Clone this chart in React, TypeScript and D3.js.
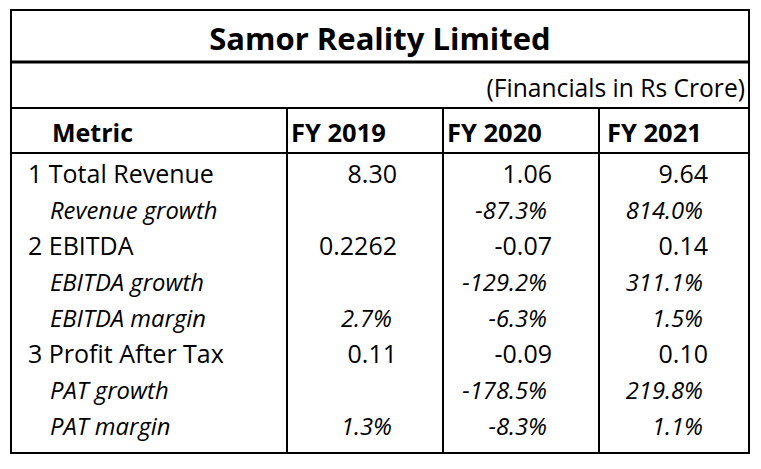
import React from "react";
import * as d3 from "d3";

const title = "Samor Reality Limited";
const subtitle = "(Financials in Rs Crore)";
const headerLabel = "Metric";
const years = ["FY 2019", "FY 2020", "FY 2021"];
const metrics = [
  "1 Total Revenue",
  "Revenue growth",
  "2 EBITDA",
  "EBITDA growth",
  "EBITDA margin",
  "3 Profit After Tax",
  "PAT growth",
  "PAT margin",
];
const isSub = [false, true, false, true, true, false, true, true];
const fy2019 = ["8.30", "", "0.2262", "", "2.7%", "0.11", "", "1.3%"];
const fy2020 = ["1.06", "-87.3%", "-0.07", "-129.2%", "-6.3%", "-0.09", "-178.5%", "-8.3%"];
const fy2021 = ["9.64", "814.0%", "0.14", "311.1%", "1.5%", "0.10", "219.8%", "1.1%"];
const columns = [fy2019, fy2020, fy2021];

const W = 761;
const H = 469;
const FONT = "'Open Sans', Lato, sans-serif";

export default function App() {
  const left = 11, right = 749, top = 10, bottom = 453;
  const yTitleLine = 62, ySubLine = 108, yHeadLine = 153;
  const colEdges = [left, 287, 443, 599, right];
  const rowY = d3.scaleLinear().domain([0, 1]).range([183, 219]);
  const numRight = [397, 552, 708];
  const pctRight = [392, 547, 703];
  const headX = [291, 447, 607];

  return (
    <svg width={W} height={H} style={{ position: "absolute", left: 0, top: 0, background: "#fff" }} fontFamily={FONT}>
      <rect x={0} y={0} width={W} height={H} fill="#fff" />
      <text x={380} y={50} textAnchor="middle" fontWeight="bold" fontSize={31} fill="#000">{title}</text>
      <text x={745} y={97} textAnchor="end" fontSize={24.6} fill="#000">{subtitle}</text>
      <text x={52} y={142} fontWeight="bold" fontSize={25} fill="#000">{headerLabel}</text>
      {years.map((y, i) => (
        <text key={y} x={headX[i]} y={142} fontWeight="bold" fontSize={25.5} fill="#000">{y}</text>
      ))}
      {metrics.map((m, i) => (
        <text key={m} x={isSub[i] ? 50 : 28} y={rowY(i)} fontSize={isSub[i] ? 23.8 : 25} fontStyle={isSub[i] ? "italic" : "normal"} fill="#000">{m}</text>
      ))}
      {columns.map((col, c) =>
        col.map((v, i) =>
          v ? (
            <text key={c + "-" + i} x={isSub[i] ? pctRight[c] : numRight[c]} y={rowY(i)} textAnchor="end" fontSize={isSub[i] ? 23.8 : 25} fontStyle={isSub[i] ? "italic" : "normal"} fill="#000">{v}</text>
          ) : null
        )
      )}
      <g stroke="#000" fill="none">
        <rect x={left} y={top} width={right - left} height={bottom - top} strokeWidth={2} />
        <line x1={left} x2={right} y1={yTitleLine} y2={yTitleLine} strokeWidth={3} />
        <line x1={left} x2={right} y1={ySubLine} y2={ySubLine} strokeWidth={2} />
        <line x1={left} x2={right} y1={yHeadLine} y2={yHeadLine} strokeWidth={2} />
        {colEdges.slice(1, 4).map((x) => (
          <line key={x} x1={x} x2={x} y1={ySubLine} y2={bottom} strokeWidth={2} />
        ))}
      </g>
    </svg>
  );
}
